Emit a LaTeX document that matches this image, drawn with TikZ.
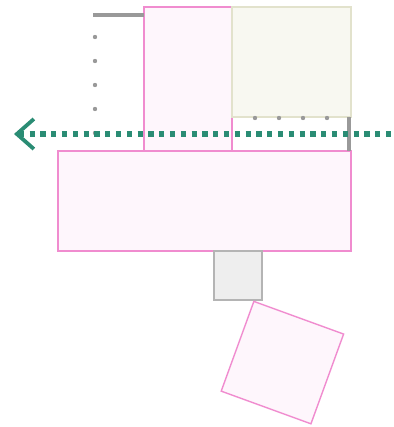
\documentclass[tikz,border=0pt]{standalone}
\usetikzlibrary{arrows.meta}
\definecolor{pinkline}{HTML}{F08CCF}
\definecolor{pinkfill}{HTML}{FEF6FC}
\definecolor{beigeline}{HTML}{E2E2CC}
\definecolor{beigefill}{HTML}{F8F8F1}
\definecolor{grayline}{HTML}{B4B4B4}
\definecolor{grayfill}{HTML}{EEEEEE}
\definecolor{darkgray}{HTML}{999999}
\definecolor{teal}{HTML}{2A8C74}
\begin{document}
\begin{tikzpicture}[x=1pt,y=-1pt,
  pinkbox/.style={draw=pinkline,fill=pinkfill,line width=1.4pt,inner sep=0pt,outer sep=0pt,rectangle},
  beigebox/.style={draw=beigeline,fill=beigefill,line width=1.4pt,inner sep=0pt,outer sep=0pt,rectangle},
  graybox/.style={draw=grayline,fill=grayfill,line width=1.4pt,inner sep=0pt,outer sep=0pt,rectangle},
  dotmark/.style={circle,fill=darkgray,inner sep=0pt,minimum size=4.4pt},
  barline/.style={draw=darkgray,line width=3.8pt},
  flow/.style={draw=teal,line width=5.4pt,dash pattern=on 5.2pt off 5.6pt,
    {Straight Barb[length=17pt,width=30pt,line width=3.8pt]}-}]
\useasboundingbox (0,0) rectangle (393,427);
% boxes
\node[pinkbox,minimum width=88pt,minimum height=144pt] (tall) at (188,79) {};
\node[beigebox,minimum width=119pt,minimum height=110pt] (beige) at (291.5,62) {};
\node[pinkbox,minimum width=293pt,minimum height=100pt] (wide) at (204.5,201) {};
\node[graybox,minimum width=48pt,minimum height=49pt] (small) at (238,275.5) {};
\node[pinkbox,minimum width=95.5pt,minimum height=95.5pt,rotate=-20] (tilted) at (282.4,362.6) {};
% gray bars
\coordinate (barA) at (93,15);
\draw[barline] (barA) -- (tall.west |- barA);
\coordinate (barB) at (349,117);
\draw[barline] (barB) -- (barB |- wide.north);
% dots
\foreach \i/\yy in {1/37,2/61,3/85,4/109,5/133} \node[dotmark] (vd\i) at (95,\yy) {};
\foreach \i/\xx in {1/255,2/279,3/303,4/327} \node[dotmark] (hd\i) at (\xx,118) {};
% arrow
\coordinate (tip) at (14,134);
\coordinate (tail) at (399,134);
\draw[flow] (tip) -- (tail);
\end{tikzpicture}
\end{document}
